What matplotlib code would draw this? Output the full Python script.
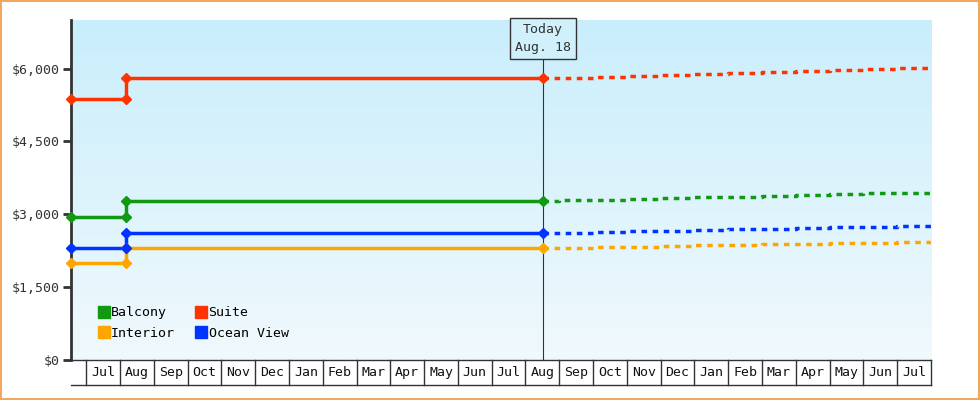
import matplotlib
matplotlib.use("Agg")
import matplotlib.pyplot as plt
import numpy as np
from matplotlib.lines import Line2D
from matplotlib.colors import LinearSegmentedColormap

plt.rcParams['font.family'] = ['DejaVu Sans Mono']

months = ["Jul","Aug","Sep","Oct","Nov","Dec","Jan","Feb","Mar","Apr","May","Jun",
          "Jul","Aug","Sep","Oct","Nov","Dec","Jan","Feb","Mar","Apr","May","Jun","Jul"]
hist_x = [-0.45, 1.18, 1.18, 13.52]
today_x = 13.52
fc_x = [13.52, 14, 15, 16, 17, 18, 19, 20, 21, 22, 23, 24, 25]

series = {
    "Balcony":    dict(color="#119911", hist=[2950, 2950, 3270, 3270],
                       fc=[3270, 3285, 3300, 3318, 3334, 3350, 3366, 3382, 3398, 3414, 3430, 3445, 3455]),
    "Suite":      dict(color="#ff3300", hist=[5380, 5380, 5800, 5800],
                       fc=[5800, 5815, 5835, 5855, 5875, 5895, 5915, 5935, 5955, 5975, 5995, 6020, 6040]),
    "Interior":   dict(color="#ffa500", hist=[2000, 2000, 2300, 2300],
                       fc=[2300, 2310, 2322, 2334, 2346, 2358, 2370, 2382, 2394, 2406, 2418, 2430, 2441]),
    "Ocean View": dict(color="#0033ff", hist=[2300, 2300, 2610, 2610],
                       fc=[2610, 2622, 2636, 2650, 2664, 2678, 2692, 2706, 2720, 2734, 2748, 2762, 2772]),
}
yticks = [0, 1500, 3000, 4500, 6000]

fig = plt.figure(figsize=(9.8, 4), dpi=100)
fig.patch.set_facecolor("white")
fig.patches.append(plt.Rectangle((0.001, 0.002), 0.998, 0.996, transform=fig.transFigure,
                                 fill=False, edgecolor="#f0a860", lw=1.5))
ax = fig.add_axes([71/980, 40/400, 860/980, 340/400])
xmin, xmax, ymin, ymax = -0.45, 25, 0, 7000

grad = np.linspace(0, 1, 256).reshape(-1, 1)
cmap = LinearSegmentedColormap.from_list("g", ["#c9eefb", "#f0f9fd"])
ax.imshow(grad, aspect="auto", cmap=cmap, extent=[xmin, xmax, ymin, ymax], zorder=0, origin="upper")
ax.set_xlim(xmin, xmax); ax.set_ylim(ymin, ymax)

for name, s in series.items():
    ax.plot(hist_x, s["hist"], color=s["color"], lw=2.5, zorder=3)
    ax.plot(hist_x, s["hist"], ls="none", marker="D", ms=5, color=s["color"], zorder=4, clip_on=False)
    ax.plot(fc_x, s["fc"], color=s["color"], lw=2.5, ls=(0, (1.6, 1.6)), zorder=3, drawstyle="steps-post")

ax.plot([today_x, today_x], [0, 6300], color="#333333", lw=0.8, zorder=2)
ax.text(today_x, 6620, "Today\nAug. 18", ha="center", va="center", fontsize=9.5, color="#333333",
        linespacing=1.5, zorder=5,
        bbox=dict(boxstyle="square,pad=0.4", fc="#d0f0fc", ec="#333333", lw=1))

for sp in ["top", "right", "bottom"]:
    ax.spines[sp].set_visible(False)
ax.spines["left"].set_color("#333333"); ax.spines["left"].set_linewidth(2)
ax.set_yticks(yticks)
ax.set_yticklabels(["$" + format(v, ",") for v in yticks], fontsize=9.5, color="#333333")
ax.tick_params(axis="y", length=6, width=2, color="#333333", pad=2)
ax.set_xticks([])

trans = ax.get_xaxis_transform()
cell_h = -25/340
ax.plot([xmin, xmax], [0, 0], transform=trans, color="#333333", lw=1, clip_on=False)
ax.plot([xmin, xmax], [cell_h, cell_h], transform=trans, color="#333333", lw=1, clip_on=False)
for i in range(len(months) + 1):
    ax.plot([i, i], [0, cell_h], transform=trans, color="#333333", lw=1, clip_on=False)
for i, m in enumerate(months):
    ax.text(i + 0.5, cell_h / 2, m, transform=trans, ha="center", va="center", fontsize=9.5, color="#111111")

handles = [Line2D([], [], ls="none", marker="s", ms=9, color=series[n]["color"], label=n)
           for n in ["Balcony", "Interior", "Suite", "Ocean View"]]
ax.legend(handles=handles, ncol=2, loc="lower left", bbox_to_anchor=(0.018, 0.025), frameon=False,
          handlelength=0.8, handletextpad=0.15, columnspacing=1.6, labelspacing=0.55,
          prop={"size": 9.5})

fig.savefig("out.png", dpi=100)
